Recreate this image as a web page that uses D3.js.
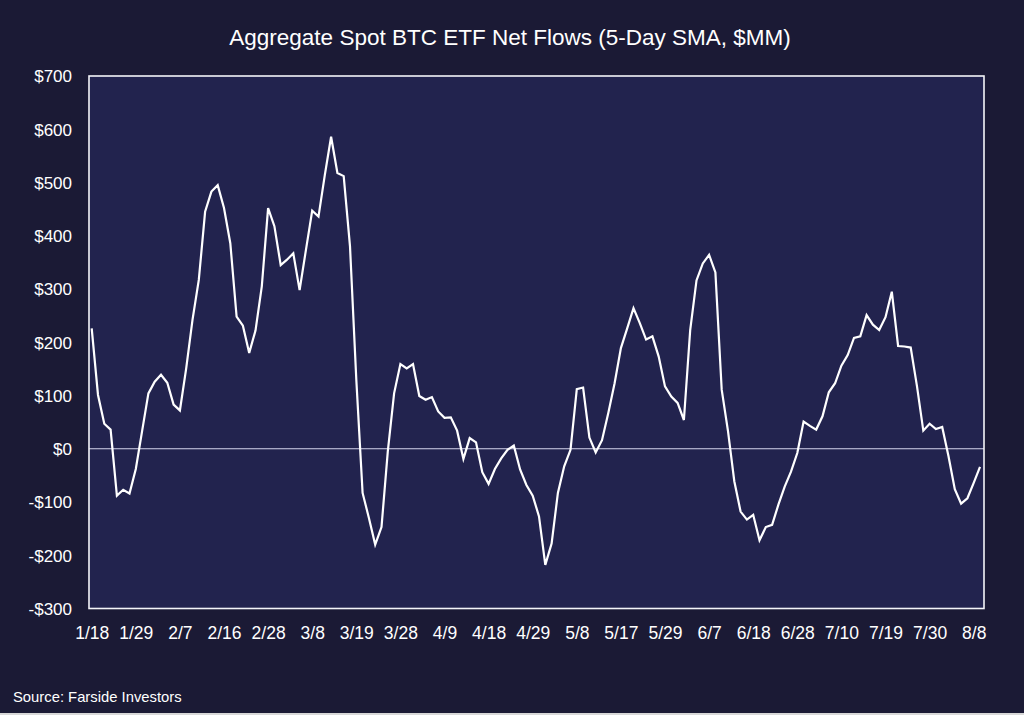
<!DOCTYPE html>
<html><head><meta charset="utf-8">
<script src="https://cdn.jsdelivr.net/npm/d3@7"></script>
<style>
html,body{margin:0;padding:0;background:#1b1a35;}
svg{display:block;}
text{font-family:"Liberation Sans",Arial,sans-serif;fill:#ffffff;}
</style></head>
<body>
<svg id="chart" width="1024" height="715"></svg>
<script>
const title = "Aggregate Spot BTC ETF Net Flows (5-Day SMA, $MM)";
const source = "Source: Farside Investors";
const tickLabels = ["1/18","1/29","2/7","2/16","2/28","3/8","3/19","3/28","4/9","4/18","4/29","5/8","5/17","5/29","6/7","6/18","6/28","7/10","7/19","7/30","8/8"];
const yTicks = [-300,-200,-100,0,100,200,300,400,500,600,700];
const flows = [226,101,47,36,-88,-77,-84,-38,33,104,126,139,124,83,72,151,242,317,445,483,
  495,452,386,248,231,180,222,305,452,418,345,355,367,298,373,447,436,514,586,518,
  512,380,130,-83,-130,-180,-147,-5,104,159,151,159,99,92,97,70,58,59,34,-19,
  20,12,-44,-66,-38,-18,-2,6,-39,-68,-88,-127,-218,-178,-83,-33,-2,112,115,21,
  -7,16,67,123,189,226,264,236,205,211,173,117,98,86,54,223,316,348,364,331,
  111,33,-61,-118,-133,-124,-172,-147,-143,-105,-71,-43,-8,51,43,36,61,106,123,156,
  176,208,211,251,233,223,247,295,193,192,190,117,34,47,37,41,-14,-76,-103,-93,-64,-34];

const svg = d3.select("#chart");
const W = 1024, H = 715;
const plot = {x0: 89, x1: 984, y0: 76, y1: 608.5};

svg.append("rect").attr("width", W).attr("height", H).attr("fill", "#1b1a35");
svg.append("rect").attr("x", 0).attr("y", H - 2).attr("width", W).attr("height", 2).attr("fill", "#d8d8d8");

const x = d3.scaleLinear().domain([0, flows.length - 1]).range([plot.x0 + 2.7, plot.x1 - 4]);
const y = d3.scaleLinear().domain([-300, 700]).range([plot.y1, plot.y0]);

svg.append("rect")
  .attr("x", plot.x0).attr("y", plot.y0)
  .attr("width", plot.x1 - plot.x0).attr("height", plot.y1 - plot.y0)
  .attr("fill", "#22234e");

// zero line
svg.append("line")
  .attr("x1", plot.x0).attr("x2", plot.x1)
  .attr("y1", y(0)).attr("y2", y(0))
  .attr("stroke", "#d6d6ee").attr("stroke-width", 1.2);

// line
const line = d3.line().x((d, i) => x(i)).y(d => y(d));
svg.append("path").datum(flows)
  .attr("d", line)
  .attr("fill", "none").attr("stroke", "#ffffff")
  .attr("stroke-width", 2.2).attr("stroke-linejoin", "miter");

// frame
svg.append("rect")
  .attr("x", plot.x0).attr("y", plot.y0)
  .attr("width", plot.x1 - plot.x0).attr("height", plot.y1 - plot.y0)
  .attr("fill", "none").attr("stroke", "#f4f4f8").attr("stroke-width", 1.6);

// y axis
const yAxis = d3.axisLeft(y).tickValues(yTicks).tickSize(0).tickPadding(0)
  .tickFormat(d => (d < 0 ? "-$" : "$") + Math.abs(d));
const gy = svg.append("g").attr("transform", `translate(${plot.x0 - 17},0)`).call(yAxis);
gy.select(".domain").remove();
gy.selectAll("text").attr("font-size", 17).attr("fill", "#ffffff")
  .attr("font-family", "Liberation Sans, Arial, sans-serif").attr("dy", "0.35em");

// x axis
const xTickIdx = tickLabels.map((_, k) => k * 7);
const xAxis = d3.axisBottom(x).tickValues(xTickIdx).tickSize(0).tickPadding(0)
  .tickFormat((d, k) => tickLabels[k]);
const gx = svg.append("g").attr("transform", `translate(0,${plot.y1 + 18})`).call(xAxis);
gx.select(".domain").remove();
gx.selectAll("text").attr("font-size", 17.5).attr("fill", "#ffffff")
  .attr("font-family", "Liberation Sans, Arial, sans-serif");

// title
svg.append("text").attr("x", 510).attr("y", 45).attr("text-anchor", "middle")
  .attr("font-size", 22.5).text(title);

// source
svg.append("text").attr("x", 13).attr("y", 702).attr("font-size", 14.8).text(source);
</script>
</body></html>
